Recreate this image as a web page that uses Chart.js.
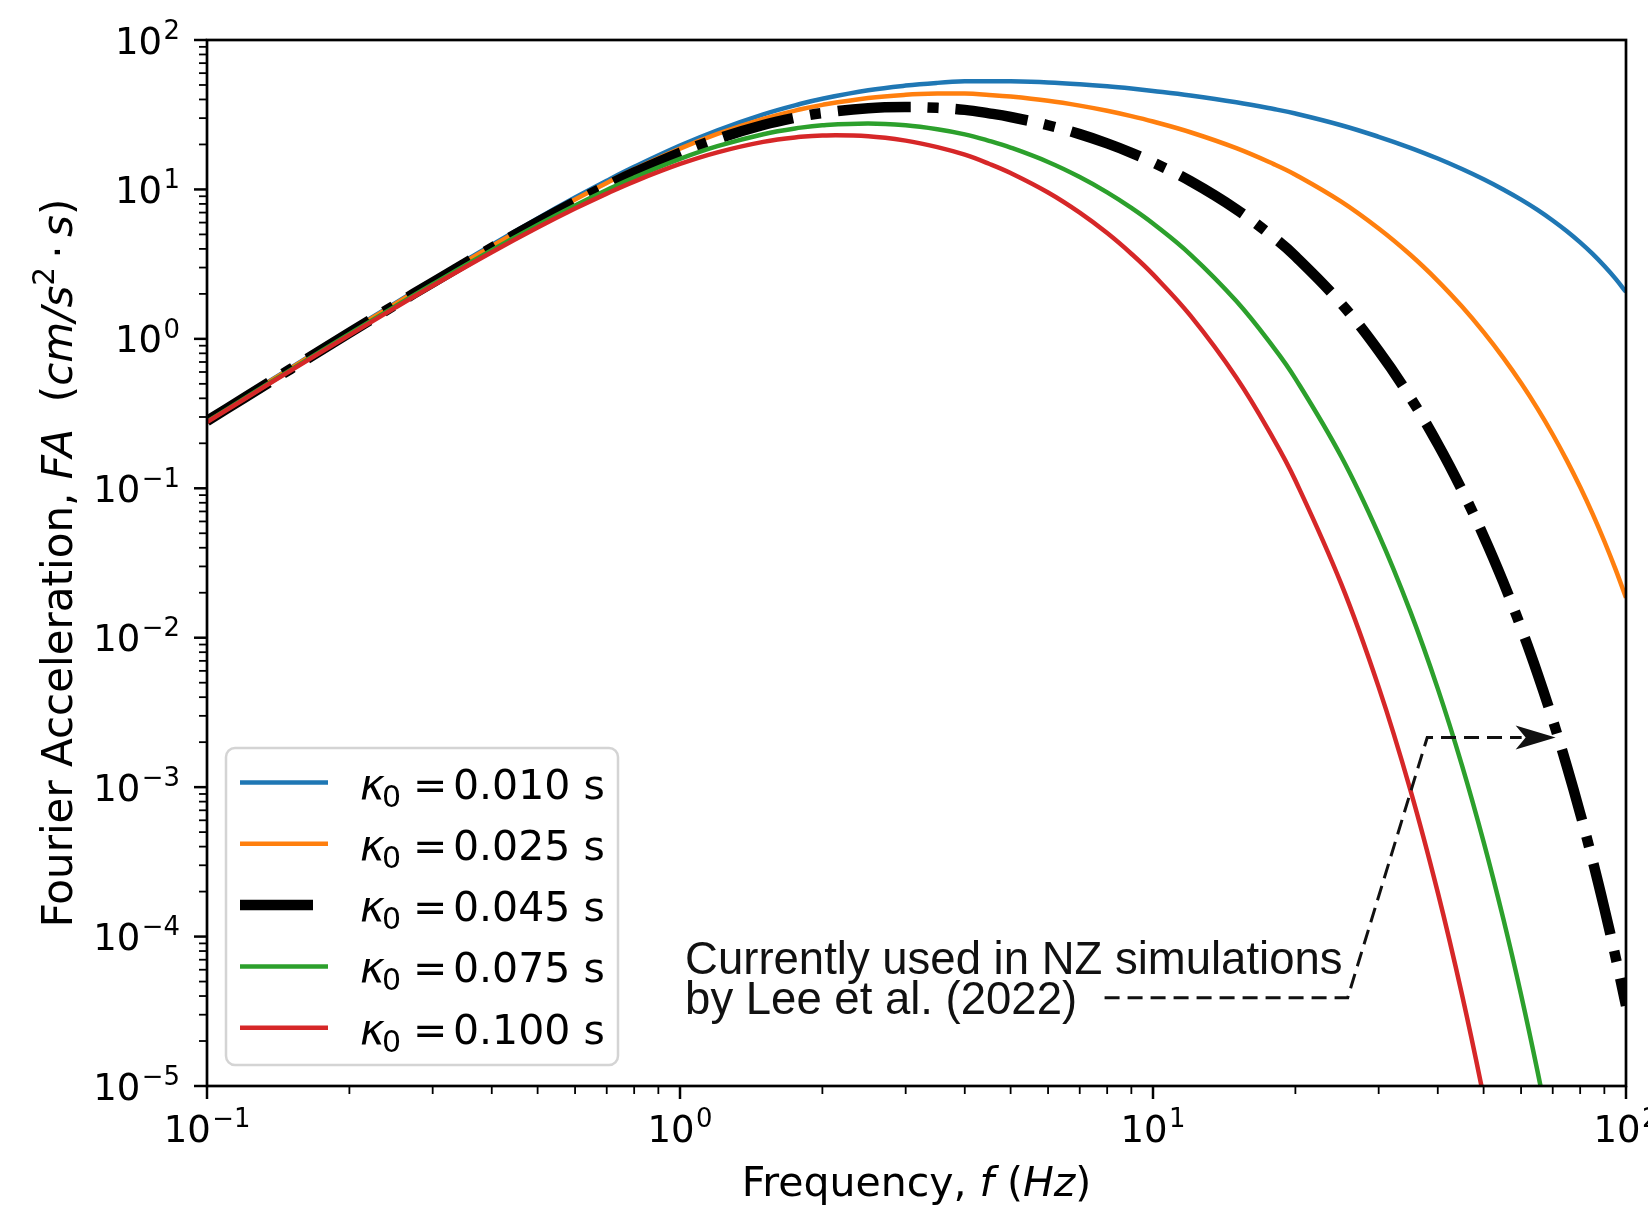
<!DOCTYPE html>
<html>
<head>
<meta charset="utf-8">
<script src="https://cdn.jsdelivr.net/npm/chart.js@4.4.0/dist/chart.umd.min.js"></script>
<style>
  html, body { margin: 0; padding: 0; background: #fff; }
  canvas { display: block; }
</style>
</head>
<body>
<canvas id="fa-chart" width="1648" height="1212"></canvas>
<script>
// Fourier acceleration spectra for several kappa0 values
const freqHz = [0.1, 0.12, 0.15, 0.2, 0.25, 0.3, 0.4, 0.5, 0.6, 0.7, 0.8, 1, 1.2, 1.5, 1.8, 2, 2.5, 3, 3.5, 4, 4.5,
    5, 6, 7, 8, 9, 10, 12, 15, 18, 20, 25, 30, 35, 40, 45, 50, 55, 60, 65, 70, 75, 80, 85, 90, 95, 100];

const fa010 = [0.285, 0.409, 0.637, 1.122, 1.735, 2.466, 4.251, 6.397, 8.818, 11.43, 14.15, 19.64, 24.88, 31.81, 37.42, 40.45, 46.05, 49.53, 51.65, 52.88, 53.0,
    52.9, 52.0, 50.6, 49.0, 47.3, 45.6, 42.5, 38.3, 34.5, 32.2, 26.9, 22.5, 19.0, 16.1, 13.7, 11.7, 10.0, 8.55, 7.3, 6.2, 5.25, 4.42, 3.7, 3.07, 2.53, 2.06];
const fa025 = [0.2837, 0.4067, 0.6325, 1.111, 1.715, 2.431, 4.172, 6.248, 8.572, 11.06, 13.63, 18.74, 23.51, 29.64, 34.38, 36.81, 40.93, 43.00, 43.80, 43.80, 42.88,
    41.80, 39.20, 36.39, 33.61, 30.95, 28.47, 24.14, 18.89, 14.77, 12.55, 8.283, 5.474, 3.652, 2.446, 1.644, 1.109, 0.7489, 0.506, 0.3412, 0.2291, 0.1532, 0.1019, 0.06741, 0.04421, 0.02877, 0.01852];
const fa045 = [0.2819, 0.4036, 0.6266, 1.0975, 1.688, 2.386, 4.068, 6.055, 8.255, 10.58, 12.96, 17.60, 21.80, 26.97, 30.70, 32.47, 34.98, 35.61, 35.15, 34.07, 32.31,
    30.53, 26.88, 23.44, 20.33, 17.58, 15.18, 11.36, 7.361, 4.768, 3.571, 1.721, 0.8312, 0.4049, 0.1979, 0.09717, 0.04791, 0.02364, 0.01166, 0.005745, 0.002816, 0.001376, 0.0006683, 0.0003226, 0.0001544, 0.00007337, 0.0000345];
const fa075 = [0.2793, 0.3991, 0.6178, 1.077, 1.649, 2.320, 3.918, 5.776, 7.801, 9.907, 12.02, 16.01, 19.47, 23.42, 25.91, 26.89, 27.64, 26.85, 25.27, 23.37, 21.15,
    19.05, 15.27, 12.11, 9.565, 7.53, 5.919, 3.666, 1.790, 0.8739, 0.5422, 0.1632, 0.04916, 0.01495, 0.004563, 0.001399, 0.0004306, 0.0001326, 0.00004087, 0.00001256, 0.000003838, null, null, null, null, null, null];
const fa100 = [0.2770, 0.3954, 0.6106, 1.060, 1.617, 2.266, 3.796, 5.554, 7.442, 9.378, 11.29, 14.80, 17.72, 20.82, 22.49, 22.98, 22.71, 21.21, 19.20, 17.07, 14.85,
    12.87, 9.537, 6.993, 5.106, 3.713, 2.699, 1.429, 0.5515, 0.2127, 0.1128, 0.02292, 0.004669, 0.0009595, 0.0001975, 0.00004096, 0.00000849, 0.00000177, null, null, null, null, null, null, null, null, null];

const kappaLabels = ['0.010', '0.025', '0.045', '0.075', '0.100'];
const xTickExps = [-1, 0, 1, 2];
const yTickExps = [-5, -4, -3, -2, -1, 0, 1, 2];
const noteLines = ['Currently used in NZ simulations', 'by Lee et al. (2022)'];

// annotation placement, in data units (Hz, FA)
const noteAnchor = { f: 1.025, fa: 5.6e-5 };
const notePath = [[7.9, 3.9e-5], [25.8, 3.9e-5], [38.0, 2.15e-3], [71.0, 2.15e-3]];

const FONT = '"DejaVu Sans"';
const chartEl = document.getElementById('fa-chart');
const ctx = chartEl.getContext('2d');

const makeSeries = (vals) => freqHz.map((f, i) => ({ x: f, y: vals[i] }));

const lineDefaults = {
    pointRadius: 0,
    fill: false,
    tension: 0.4,
    borderJoinStyle: 'round',
    spanGaps: false,
    clip: 0
};

// draws "10^exp" like matplotlib's mathtext
const drawPow = (c, x, baseY, exp, size, align) => {
    const sup = exp < 0 ? '\u2212' + Math.abs(exp) : String(exp);
    c.font = size + 'px ' + FONT;
    const w1 = c.measureText('10').width;
    c.font = (size * 0.7) + 'px ' + FONT;
    const w2 = c.measureText(sup).width;
    const gap = size * 0.04;
    const total = w1 + gap + w2;
    const x0 = align === 'right' ? x - total : x - total / 2;
    c.textAlign = 'left';
    c.font = size + 'px ' + FONT;
    c.fillText('10', x0, baseY);
    c.font = (size * 0.7) + 'px ' + FONT;
    c.fillText(sup, x0 + w1 + gap, baseY - size * 0.40);
};

// draws a run of text pieces (normal / italic / superscript) starting at x
const drawRuns = (c, runs, x, baseY, size) => {
    let cx = x;
    runs.forEach(r => {
        const s = r.sup ? size * 0.7 : size;
        c.font = (r.it ? 'italic ' : '') + s + 'px ' + FONT;
        c.fillText(r.t, cx, r.sup ? baseY - size * 0.42 : baseY);
        cx += c.measureText(r.t).width;
    });
    return cx - x;
};
const runsWidth = (c, runs, size) => {
    let w = 0;
    runs.forEach(r => {
        const s = r.sup ? size * 0.7 : size;
        c.font = (r.it ? 'italic ' : '') + s + 'px ' + FONT;
        w += c.measureText(r.t).width;
    });
    return w;
};

const decorPlugin = {
    id: 'decor',
    afterDatasetsDraw(chart) {
        const c = chart.ctx;
        const xs = chart.scales.x, ys = chart.scales.y;
        const a = chart.chartArea;
        c.save();
        c.fillStyle = '#000';
        c.strokeStyle = '#000';
        c.textBaseline = 'alphabetic';

        // ticks, outside, on left and bottom
        c.lineCap = 'butt';
        yTickExps.forEach((e, i) => {
            const py = ys.getPixelForValue(Math.pow(10, e));
            c.lineWidth = 2.5;
            c.beginPath(); c.moveTo(a.left - 13, py); c.lineTo(a.left, py); c.stroke();
            if (i < yTickExps.length - 1) {
                c.lineWidth = 1.8;
                for (let k = 2; k <= 9; k++) {
                    const pm = ys.getPixelForValue(k * Math.pow(10, e));
                    c.beginPath(); c.moveTo(a.left - 8, pm); c.lineTo(a.left, pm); c.stroke();
                }
            }
            drawPow(c, a.left - 27, py + 13.5, e, 37, 'right');
        });
        xTickExps.forEach((e, i) => {
            const px = xs.getPixelForValue(Math.pow(10, e));
            c.lineWidth = 2.5;
            c.beginPath(); c.moveTo(px, a.bottom); c.lineTo(px, a.bottom + 13); c.stroke();
            if (i < xTickExps.length - 1) {
                c.lineWidth = 1.8;
                for (let k = 2; k <= 9; k++) {
                    const pm = xs.getPixelForValue(k * Math.pow(10, e));
                    c.beginPath(); c.moveTo(pm, a.bottom); c.lineTo(pm, a.bottom + 8); c.stroke();
                }
            }
            drawPow(c, px, a.bottom + 56, e, 37, 'center');
        });

        // frame
        c.lineWidth = 2.7;
        c.strokeRect(a.left, a.top, a.right - a.left, a.bottom - a.top);

        // axis titles
        const xRuns = [{ t: 'Frequency, ' }, { t: 'f', it: true }, { t: ' (' }, { t: 'Hz', it: true }, { t: ')' }];
        const xw = runsWidth(c, xRuns, 41);
        drawRuns(c, xRuns, (a.left + a.right) / 2 - xw / 2, a.bottom + 110, 41);

        const yRuns = [{ t: 'Fourier Acceleration, ' }, { t: 'FA', it: true }, { t: '  (' }, { t: 'cm/s', it: true },
            { t: '2', sup: true }, { t: '\u2009\u00b7\u2009' }, { t: 's', it: true }, { t: ')' }];
        const yw = runsWidth(c, yRuns, 42);
        c.save();
        c.translate(57, (a.top + a.bottom) / 2);
        c.rotate(-Math.PI / 2);
        drawRuns(c, yRuns, -yw / 2, 15, 42);
        c.restore();

        // legend box
        const lx = a.left + 19, ly = a.top + 708, lw = 392, lh = 317, r = 9;
        c.beginPath();
        c.moveTo(lx + r, ly);
        c.lineTo(lx + lw - r, ly); c.arcTo(lx + lw, ly, lx + lw, ly + r, r);
        c.lineTo(lx + lw, ly + lh - r); c.arcTo(lx + lw, ly + lh, lx + lw - r, ly + lh, r);
        c.lineTo(lx + r, ly + lh); c.arcTo(lx, ly + lh, lx, ly + lh - r, r);
        c.lineTo(lx, ly + r); c.arcTo(lx, ly, lx + r, ly, r);
        c.closePath();
        c.fillStyle = 'rgba(255,255,255,0.8)';
        c.fill();
        c.strokeStyle = '#d4d4d4';
        c.lineWidth = 2.5;
        c.stroke();

        chart.data.datasets.forEach((ds, i) => {
            const cy = ly + 34.5 + i * 61.3;
            c.strokeStyle = ds.borderColor;
            c.lineWidth = ds.borderWidth;
            c.setLineDash(ds.borderDash || []);
            c.beginPath(); c.moveTo(lx + 14, cy); c.lineTo(lx + 102, cy); c.stroke();
            c.setLineDash([]);
            c.fillStyle = '#000';
            const tx = lx + 134, by = cy + 16;
            c.font = 'italic 42px ' + FONT;
            c.fillText('\u03ba', tx, by);
            c.font = '30px ' + FONT;
            c.fillText('0', tx + 22, by + 8);
            c.font = '41px ' + FONT;
            c.fillText('=', tx + 53, by);
            c.fillText(kappaLabels[i] + ' s', tx + 93, by);
        });

        // annotation
        c.fillStyle = '#111';
        c.font = '45.5px "Liberation Sans", Arial, sans-serif';
        const nx = xs.getPixelForValue(noteAnchor.f);
        const ny = ys.getPixelForValue(noteAnchor.fa);
        noteLines.forEach((t, i) => c.fillText(t, nx, ny + i * 40));

        const pts = notePath.map(p => [xs.getPixelForValue(p[0]), ys.getPixelForValue(p[1])]);
        const tip = pts[pts.length - 1];
        c.strokeStyle = '#111';
        c.lineWidth = 3;
        c.setLineDash([15, 8]);
        c.beginPath();
        c.moveTo(pts[0][0], pts[0][1]);
        for (let i = 1; i < pts.length - 1; i++) c.lineTo(pts[i][0], pts[i][1]);
        c.lineTo(tip[0] - 34, tip[1]);
        c.stroke();
        c.setLineDash([]);
        c.fillStyle = '#111';
        c.beginPath();
        c.moveTo(tip[0], tip[1]);
        c.lineTo(tip[0] - 40, tip[1] - 12);
        c.lineTo(tip[0] - 30, tip[1]);
        c.lineTo(tip[0] - 40, tip[1] + 12);
        c.closePath();
        c.fill();

        c.restore();
    }
};

new Chart(ctx, {
    type: 'line',
    data: {
        datasets: [
            { ...lineDefaults, label: kappaLabels[0], data: makeSeries(fa010), borderColor: '#1f77b4', borderWidth: 4.5, order: 5 },
            { ...lineDefaults, label: kappaLabels[1], data: makeSeries(fa025), borderColor: '#ff7f0e', borderWidth: 4.5, order: 4 },
            { ...lineDefaults, label: kappaLabels[2], data: makeSeries(fa045), borderColor: '#000000', borderWidth: 10.5,
              borderDash: [73, 17, 11, 17], order: 3 },
            { ...lineDefaults, label: kappaLabels[3], data: makeSeries(fa075), borderColor: '#2ca02c', borderWidth: 4.5, order: 2 },
            { ...lineDefaults, label: kappaLabels[4], data: makeSeries(fa100), borderColor: '#d62728', borderWidth: 4.5, order: 1 }
        ]
    },
    options: {
        responsive: false,
        animation: false,
        devicePixelRatio: 1,
        layout: { padding: { top: 40, right: 22, left: 0, bottom: 0 } },
        plugins: {
            legend: { display: false },
            tooltip: { enabled: false }
        },
        scales: {
            x: {
                type: 'logarithmic', min: 0.1, max: 100,
                grid: { display: false }, border: { display: false }, ticks: { display: false },
                afterFit: (s) => { s.height = 126; }
            },
            y: {
                type: 'logarithmic', min: 1e-5, max: 100,
                grid: { display: false }, border: { display: false }, ticks: { display: false },
                afterFit: (s) => { s.width = 207; }
            }
        }
    },
    plugins: [decorPlugin]
});
</script>
</body>
</html>
